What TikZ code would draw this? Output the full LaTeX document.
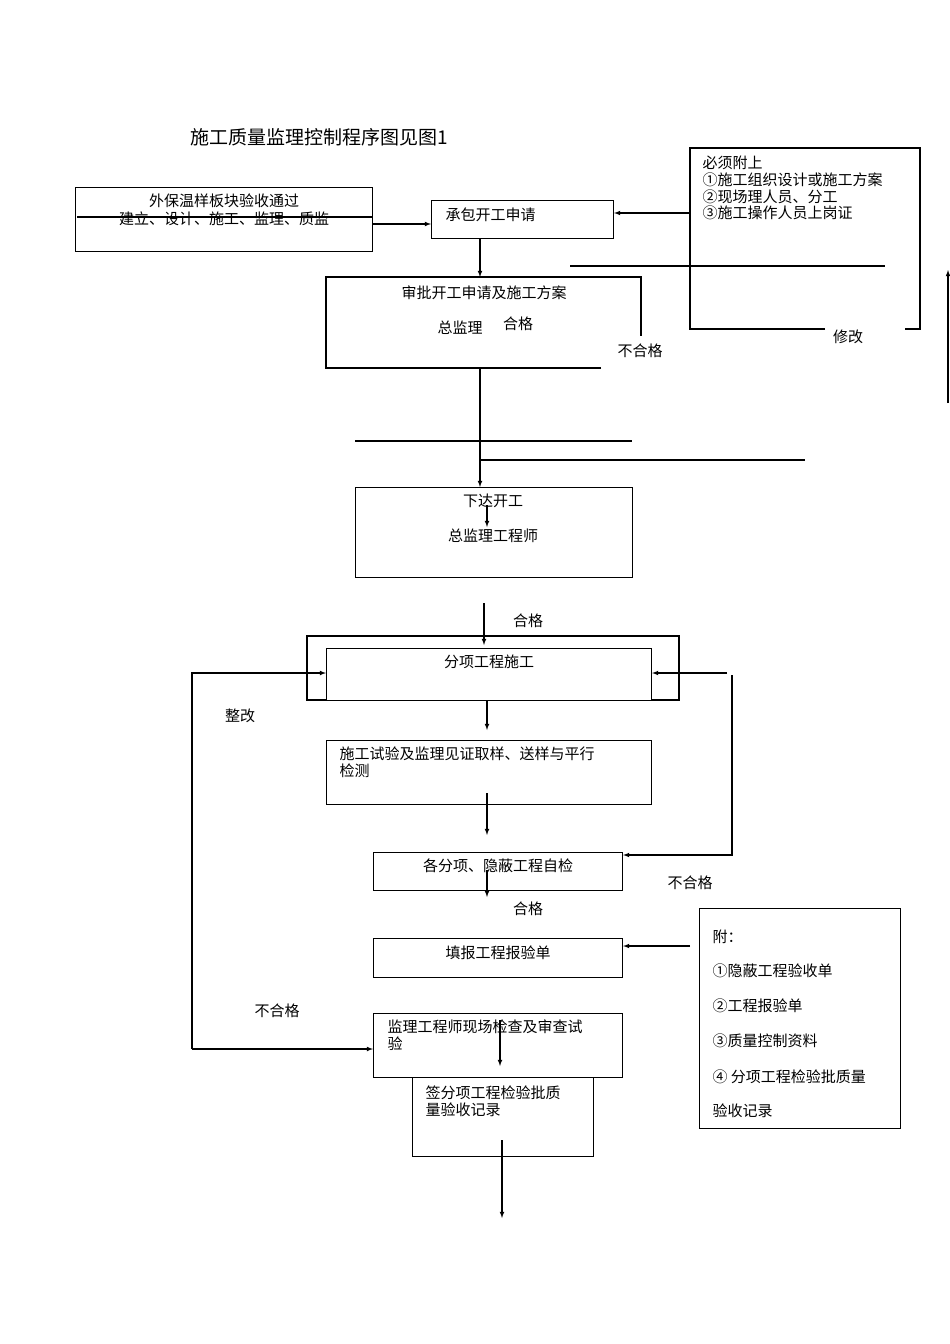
\documentclass[tikz,border=0pt]{standalone}
\usepackage{fontspec}
\setmainfont{Noto Sans CJK SC}
\begin{document}
\begin{tikzpicture}[x=1pt,y=-1pt,line width=1.1pt,
  box/.style={draw,rectangle,anchor=north west,inner sep=0pt},
  t/.style={font=\fontsize{15}{17}\selectfont,inner sep=0pt},
  tl/.style={t,anchor=west},
  arr/.style={-latex}]
\useasboundingbox (0,0) rectangle (950,1344);
\node[t,anchor=west,font=\fontsize{19}{21}\selectfont] (title) at (190,137) {施工质量监理控制程序图见图1};
% box A
\node[box,minimum width=297pt,minimum height=64pt] (A) at (75,187) {};
\node[t] (A1) at (224,201) {外保温样板块验收通过};
\node[t] (A2) at (224,219) {建立、设计、施工、监理、质监};
\draw (77,217) -- (372,217);
% box B
\node[box,minimum width=182pt,minimum height=38pt] (B) at (431,200) {};
\node[tl] (B1) at (445,215) {承包开工申请};
\draw[arr] (A.east) ++(0,0) coordinate (ae) (372,224) -- (B.west|-0,224);
% box R
\coordinate (R1) at (825,329);\coordinate (R2) at (905,329);
\draw (R1) -- (690,329) -- (690,148) -- (920,148) -- (920,329) -- (R2);
\node[tl] (r1) at (702,163) {必须附上};
\node[tl] (r2) at (702,180) {①施工组织设计或施工方案};
\node[tl] (r3) at (702,197) {②现场理人员、分工};
\node[tl] (r4) at (702,213) {③施工操作人员上岗证};
\node[t] (xg) at (848,337) {修改};
\draw[arr] (690,213) -- (B.east|-0,213);
\draw (570,266) -- (885,266);
\draw[arr] (948,403) -- (948,270);
% box C
\draw[arr] (B.south-|480,0) -- (480,277);
\draw (601,368) -- (326,368) -- (326,277) -- (641,277) -- (641,336);
\node[t] (C1) at (484,293) {审批开工申请及施工方案};
\node[t] (C2) at (460,328) {总监理};
\node[t] (C3) at (518,324) {合格};
\node[t] (C4) at (640,351) {不合格};
\draw (355,441) -- (632,441);
\draw (480,460) -- (805,460);
% box D
\node[box,minimum width=277pt,minimum height=90pt] (D) at (355,487) {};
\draw[arr] (480,368) -- (480,487);
\node[t] (D1) at (493,501) {下达开工};
\node[t] (D2) at (493,536) {总监理工程师};
\draw[arr] (487,505) -- (487,527);
% frame and E
\draw (307,636) rectangle (679,700);
\node[box,fill=white,minimum width=325pt,minimum height=52pt] (E) at (326,648) {};
\node[t] (E1) at (489,662) {分项工程施工};
\draw[arr] (484,603) -- (484,645);
\node[t] (hg1) at (528,621) {合格};
\draw[arr] (192,1049) -- (192,673) -- (E.west|-0,673);
\node[t] (zg) at (240,716) {整改};
\draw[arr] (727,673) -- (E.east|-0,673);
% F
\draw[arr] (487,700) -- (487,730);
\node[box,minimum width=325pt,minimum height=64pt] (F) at (326,740) {};
\node[tl] (F1) at (339,754) {施工试验及监理见证取样、送样与平行};
\node[tl] (F2) at (339,771) {检测};
\draw[arr] (487,793) -- (487,835);
% G
\node[box,minimum width=249pt,minimum height=38pt] (G) at (373,852) {};
\node[t] (G1) at (498,866) {各分项、隐蔽工程自检};
\draw[arr] (732,675) -- (732,855) -- (G.east|-0,855);
\node[t] (bhg2) at (690,883) {不合格};
\draw[arr] (487,870) -- (487,897);
\node[t] (hg2) at (528,909) {合格};
% H
\node[box,minimum width=249pt,minimum height=39pt] (H) at (373,938) {};
\node[t] (H1) at (498,953) {填报工程报验单};
\draw[arr] (690,946) -- (H.east|-0,946);
% R2
\node[box,minimum width=201pt,minimum height=220pt] (S) at (699,908) {};
\node[tl] (s1) at (712,937) {附：};
\node[tl] (s2) at (712,971) {①隐蔽工程验收单};
\node[tl] (s3) at (712,1006) {②工程报验单};
\node[tl] (s4) at (712,1041) {③质量控制资料};
\node[tl] (s5) at (712,1077) {④ 分项工程检验批质量};
\node[tl] (s6) at (712,1111) {验收记录};
% I
\node[t] (bhg3) at (277,1011) {不合格};
\node[box,minimum width=249pt,minimum height=64pt] (I) at (373,1013) {};
\node[tl] (I1) at (387,1027) {监理工程师现场检查及审查试};
\node[tl] (I2) at (387,1044) {验};
\draw[arr] (192,1049) -- (I.west|-0,1049);
\draw[arr] (500,1020) -- (500,1066);
% J
\node[box,minimum width=181pt,minimum height=79pt] (J) at (412,1077) {};
\node[tl] (J1) at (425,1093) {签分项工程检验批质};
\node[tl] (J2) at (425,1110) {量验收记录};
\draw[arr] (502,1140) -- (502,1218);
\end{tikzpicture}
\end{document}
